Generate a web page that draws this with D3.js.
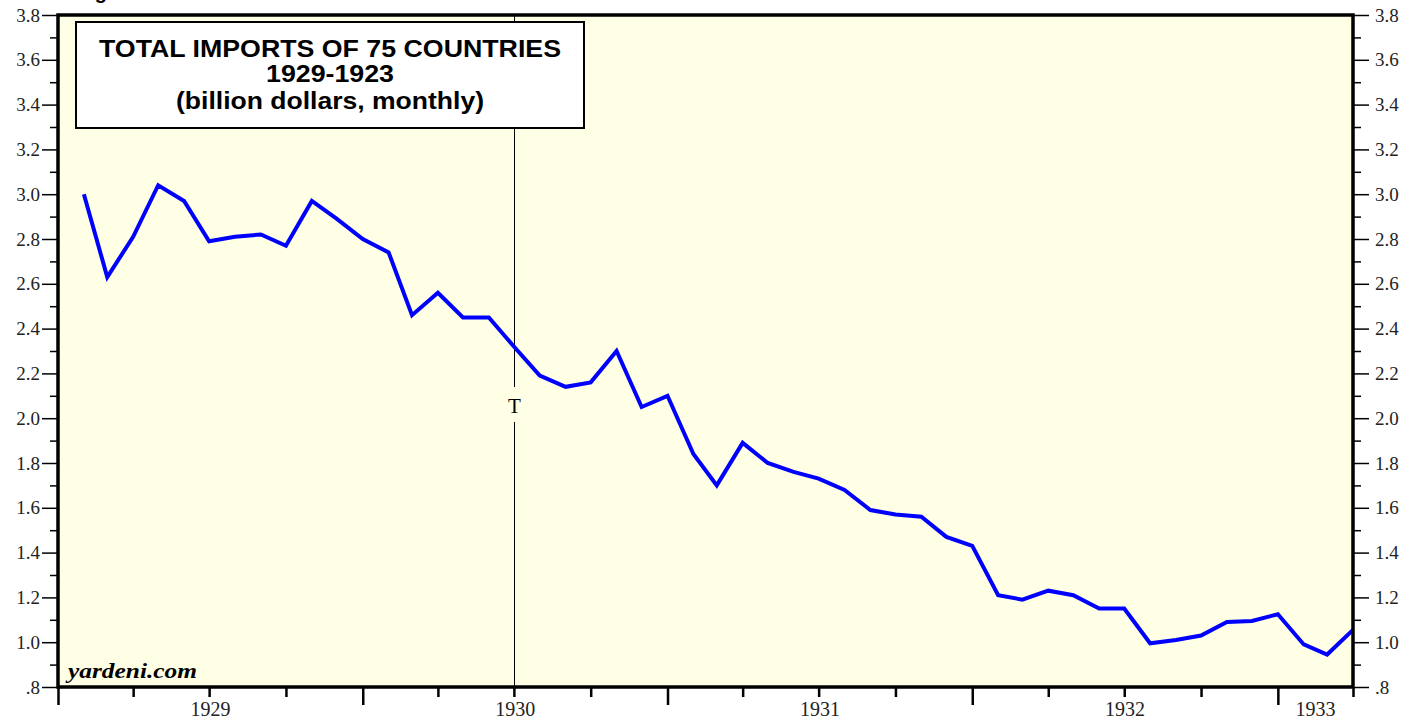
<!DOCTYPE html>
<html>
<head>
<meta charset="utf-8">
<script src="https://cdn.jsdelivr.net/npm/d3@7"></script>
<style>
  body { margin: 0; background: #fff; }
  svg { display: block; }
  .tick text { font-family: "Liberation Serif", "Times New Roman", serif; fill: #222; }
</style>
</head>
<body>
<div id="chart"></div>
<script>
// Monthly imports, Jan 1929 .. Mar 1933 (billion dollars)
const imports = [
  3.00, 2.63, 2.81, 3.04, 2.97, 2.79, 2.81, 2.82, 2.77, 2.97, 2.89, 2.80,
  2.74, 2.46, 2.56, 2.45, 2.45, 2.32, 2.19, 2.14, 2.16, 2.30, 2.05, 2.10,
  1.84, 1.70, 1.89, 1.80, 1.76, 1.73, 1.68, 1.59, 1.57, 1.56, 1.47, 1.43,
  1.21, 1.19, 1.23, 1.21, 1.15, 1.15, 0.995, 1.01, 1.03, 1.09, 1.095, 1.125,
  0.99, 0.945, 1.055
];
const years = [1929, 1930, 1931, 1932, 1933];
const titleLines = ['TOTAL IMPORTS OF 75 COUNTRIES', '1929-1923', '(billion dollars, monthly)'];
const yMajor = [0.8, 1.0, 1.2, 1.4, 1.6, 1.8, 2.0, 2.2, 2.4, 2.6, 2.8, 3.0, 3.2, 3.4, 3.6, 3.8];
const yMinor = [0.9, 1.1, 1.3, 1.5, 1.7, 1.9, 2.1, 2.3, 2.5, 2.7, 2.9, 3.1, 3.3, 3.5, 3.7];

const W = 1419, H = 721;
const margin = { left: 58, right: 1353, top: 15, bottom: 687 };

const start = new Date(1929, 0, 1), end = new Date(1933, 3, 1);
// each month is plotted at its end (first day of the next month)
const months = d3.timeMonth.range(new Date(1929, 1, 1), new Date(1933, 4, 1));
const data = months.map((d, i) => ({ date: d, value: imports[i] }));
const tariffDate = new Date(1930, 6, 1);

const svg = d3.select('#chart').append('svg')
  .attr('width', W).attr('height', H);

const x = d3.scaleTime().domain([start, end]).range([margin.left, margin.right]);
const y = d3.scaleLinear().domain([0.8, 3.8]).range([margin.bottom, margin.top]);

// heading above the chart, cut off by the top edge as in the original
svg.append('text')
  .attr('x', 77).attr('y', -1)
  .style('font-family', '"Liberation Sans", Arial, sans-serif')
  .style('font-weight', 'bold').style('font-size', '20px')
  .text('Figure');

// plot background
svg.append('rect')
  .attr('x', margin.left).attr('y', margin.top)
  .attr('width', margin.right - margin.left).attr('height', margin.bottom - margin.top)
  .attr('fill', '#ffffe6');

// tariff line
const tx = Math.round(x(tariffDate)) + 0.5;
svg.append('line')
  .attr('x1', tx).attr('x2', tx)
  .attr('y1', margin.top).attr('y2', 387)
  .attr('stroke', '#000').attr('stroke-width', 1);
svg.append('line')
  .attr('x1', tx).attr('x2', tx)
  .attr('y1', 422).attr('y2', margin.bottom)
  .attr('stroke', '#000').attr('stroke-width', 1);
svg.append('text')
  .attr('x', tx).attr('y', 413)
  .attr('text-anchor', 'middle')
  .style('font-family', '"Liberation Serif", "Times New Roman", serif')
  .style('font-size', '21px')
  .text('T');

// series line
const line = d3.line()
  .x(d => x(d.date))
  .y(d => y(d.value));

svg.append('path')
  .datum(data)
  .attr('d', line)
  .attr('fill', 'none')
  .attr('stroke', '#0000ff')
  .attr('stroke-width', 4)
  .attr('stroke-linejoin', 'miter');

// title box
svg.append('rect')
  .attr('x', 76).attr('y', 22)
  .attr('width', 508).attr('height', 106)
  .attr('fill', '#fff')
  .attr('stroke', '#000').attr('stroke-width', 2);

svg.append('g').selectAll('text')
  .data(titleLines)
  .enter()
  .append('text')
  .attr('x', 330)
  .attr('y', (d, i) => [57, 82, 109][i])
  .attr('text-anchor', 'middle')
  .attr('textLength', (d, i) => [462, 128, 308][i])
  .attr('lengthAdjust', 'spacingAndGlyphs')
  .style('font-family', '"Liberation Sans", Arial, sans-serif')
  .style('font-weight', 'bold')
  .style('font-size', '24px')
  .text(d => d);

// watermark
svg.append('text')
  .attr('x', 68).attr('y', 678)
  .attr('textLength', 129).attr('lengthAdjust', 'spacingAndGlyphs')
  .style('font-family', '"Liberation Serif", "Times New Roman", serif')
  .style('font-weight', 'bold').style('font-style', 'italic')
  .style('font-size', '20px')
  .text('yardeni.com');

// axes
const fmt = v => v === 0.8 ? '.8' : v.toFixed(1);

function yAxes(axisFn, xPos, pad) {
  svg.append('g')
    .attr('transform', `translate(${xPos},0)`)
    .call(axisFn(y).tickValues(yMinor).tickSize(8).tickFormat(''))
    .call(g => g.select('.domain').remove())
    .call(g => g.selectAll('line').attr('stroke-width', 1.5));
  svg.append('g')
    .attr('transform', `translate(${xPos},0)`)
    .call(axisFn(y).tickValues(yMajor).tickSize(16).tickPadding(pad).tickFormat(fmt))
    .call(g => g.select('.domain').remove())
    .call(g => g.selectAll('line').attr('stroke-width', 1.5))
    .call(g => g.selectAll('text').style('font-size', '19px'));
}
yAxes(d3.axisLeft, margin.left, 2);
yAxes(d3.axisRight, margin.right, 6);

const quarters = d3.timeMonth.every(3).range(start, d3.timeDay.offset(end, 1));
svg.append('g')
  .attr('transform', `translate(0,${margin.bottom})`)
  .call(d3.axisBottom(x).tickValues(quarters.filter(d => d.getMonth() !== 0)).tickSize(10).tickFormat(''))
  .call(g => g.select('.domain').remove())
  .call(g => g.selectAll('line').attr('stroke-width', 2.5));
svg.append('g')
  .attr('transform', `translate(0,${margin.bottom})`)
  .call(d3.axisBottom(x).tickValues(quarters.filter(d => d.getMonth() === 0)).tickSize(18).tickFormat(''))
  .call(g => g.select('.domain').remove())
  .call(g => g.selectAll('line').attr('stroke-width', 2.5));

svg.append('g').selectAll('text')
  .data(years)
  .enter()
  .append('text')
  .attr('x', d => {
    const a = x(new Date(d, 0, 1));
    const b = Math.min(x(new Date(d + 1, 0, 1)), margin.right);
    return (a + b) / 2;
  })
  .attr('y', 716)
  .attr('text-anchor', 'middle')
  .style('font-family', '"Liberation Serif", "Times New Roman", serif')
  .style('font-size', '20px')
  .style('fill', '#222')
  .text(d => d);

// plot frame
svg.append('rect')
  .attr('x', margin.left).attr('y', margin.top)
  .attr('width', margin.right - margin.left).attr('height', margin.bottom - margin.top)
  .attr('fill', 'none')
  .attr('stroke', '#000').attr('stroke-width', 3.5);
</script>
</body>
</html>
